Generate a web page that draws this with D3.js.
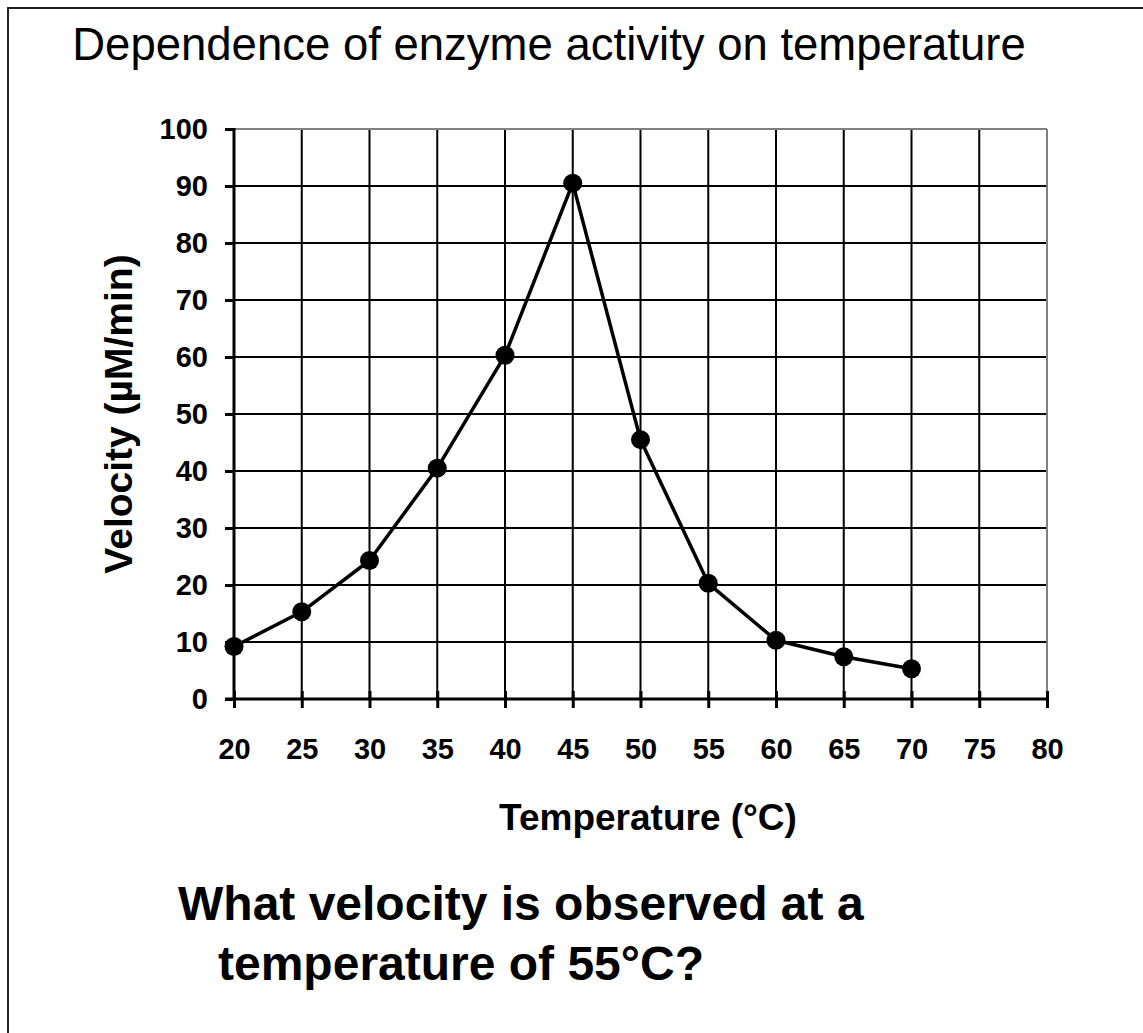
<!DOCTYPE html>
<html><head><meta charset="utf-8">
<script src="https://cdn.jsdelivr.net/npm/d3@7"></script>
<style>body{margin:0;background:#fff}svg{display:block}text{font-family:"Liberation Sans",Arial,sans-serif}</style>
</head><body>
<script>
const temperatures = [20,25,30,35,40,45,50,55,60,65,70];
const velocities = [9.2,15.3,24.3,40.5,60.3,90.5,45.5,20.3,10.3,7.4,5.3];
const xTicks = [20,25,30,35,40,45,50,55,60,65,70,75,80];
const yTicks = [0,10,20,30,40,50,60,70,80,90,100];
const titleText = "Dependence of enzyme activity on temperature";
const xLabel = "Temperature (°C)";
const yLabel = "Velocity (µM/min)";
const question = ["What velocity is observed at a","temperature of 55°C?"];

const W=1143,H=1033;
const svg=d3.select("body").append("svg").attr("width",W).attr("height",H);
svg.append("rect").attr("width",W).attr("height",H).attr("fill","#fff");
svg.append("rect").attr("x",8).attr("y",8).attr("width",1160).attr("height",1060)
  .attr("fill","none").attr("stroke","#222").attr("stroke-width",2);

const x=d3.scaleLinear().domain([20,80]).range([234,1047]);
const y=d3.scaleLinear().domain([0,100]).range([699,129]);

// gridlines
const g=svg.append("g");
g.selectAll(".vg").data(xTicks.filter(d=>d>20&&d<80)).join("line")
  .attr("x1",d=>x(d)).attr("x2",d=>x(d)).attr("y1",y(0)).attr("y2",y(100))
  .attr("stroke","#000").attr("stroke-width",2);
g.selectAll(".hg").data(yTicks.filter(d=>d>0&&d<100)).join("line")
  .attr("x1",x(20)).attr("x2",x(80)).attr("y1",d=>y(d)).attr("y2",d=>y(d))
  .attr("stroke","#000").attr("stroke-width",2);
// plot border top/right gray
g.append("line").attr("x1",x(20)).attr("x2",x(80)).attr("y1",y(100)).attr("y2",y(100)).attr("stroke","#808080").attr("stroke-width",2);
g.append("line").attr("x1",x(80)).attr("x2",x(80)).attr("y1",y(0)).attr("y2",y(100)).attr("stroke","#808080").attr("stroke-width",2);

// axes
const yAxis=d3.axisLeft(y).tickValues(yTicks).tickSize(9).tickPadding(17).tickFormat(d3.format("d"));
const ya=svg.append("g").attr("transform",`translate(${x(20)},0)`).call(yAxis);
ya.select(".domain").attr("stroke","#000").attr("stroke-width",3).attr("d",`M0,${y(0)+1.5}V${y(100)-1}`);
ya.selectAll(".tick line").attr("stroke","#000").attr("stroke-width",3);
ya.selectAll(".tick text").attr("font-size",29).attr("font-weight","bold").attr("fill","#000")
  .attr("font-family","Liberation Sans, Arial, sans-serif");

const xAxis=d3.axisBottom(x).tickValues(xTicks).tickSize(9).tickPadding(30).tickFormat(d3.format("d"));
const xa=svg.append("g").attr("transform",`translate(0,${y(0)})`).call(xAxis);
xa.select(".domain").attr("stroke","#000").attr("stroke-width",3).attr("d",`M${x(20)-9},0H${x(80)}`);
xa.selectAll(".tick line").attr("stroke","#000").attr("stroke-width",3).attr("y1",-8).attr("y2",9);
xa.selectAll(".tick text").attr("font-size",29).attr("font-weight","bold").attr("fill","#000")
  .attr("font-family","Liberation Sans, Arial, sans-serif");

// series
const pts=temperatures.map((t,i)=>[t,velocities[i]]);
svg.append("path").datum(pts).attr("fill","none").attr("stroke","#000").attr("stroke-width",3.5)
  .attr("stroke-linejoin","round")
  .attr("d",d3.line().x(d=>x(d[0])).y(d=>y(d[1])));
svg.selectAll(".pt").data(pts).join("circle").attr("cx",d=>x(d[0])).attr("cy",d=>y(d[1])).attr("r",9.5).attr("fill","#000");

// texts
svg.append("text").attr("x",549).attr("y",60).attr("text-anchor","middle").attr("font-size",45.5).attr("fill","#000").text(titleText);
svg.append("text").attr("x",648).attr("y",830).attr("text-anchor","middle").attr("font-size",37).attr("font-weight","bold").attr("fill","#000").text(xLabel);
svg.append("text").attr("transform","translate(132,414) rotate(-90)").attr("text-anchor","middle").attr("font-size",39).attr("font-weight","bold").attr("fill","#000").text(yLabel);
svg.append("text").attr("x",178).attr("y",920).attr("font-size",48).attr("font-weight","bold").attr("fill","#000").text(question[0]);
svg.append("text").attr("x",218).attr("y",980).attr("font-size",48).attr("font-weight","bold").attr("fill","#000").text(question[1]);
</script>
</body></html>
